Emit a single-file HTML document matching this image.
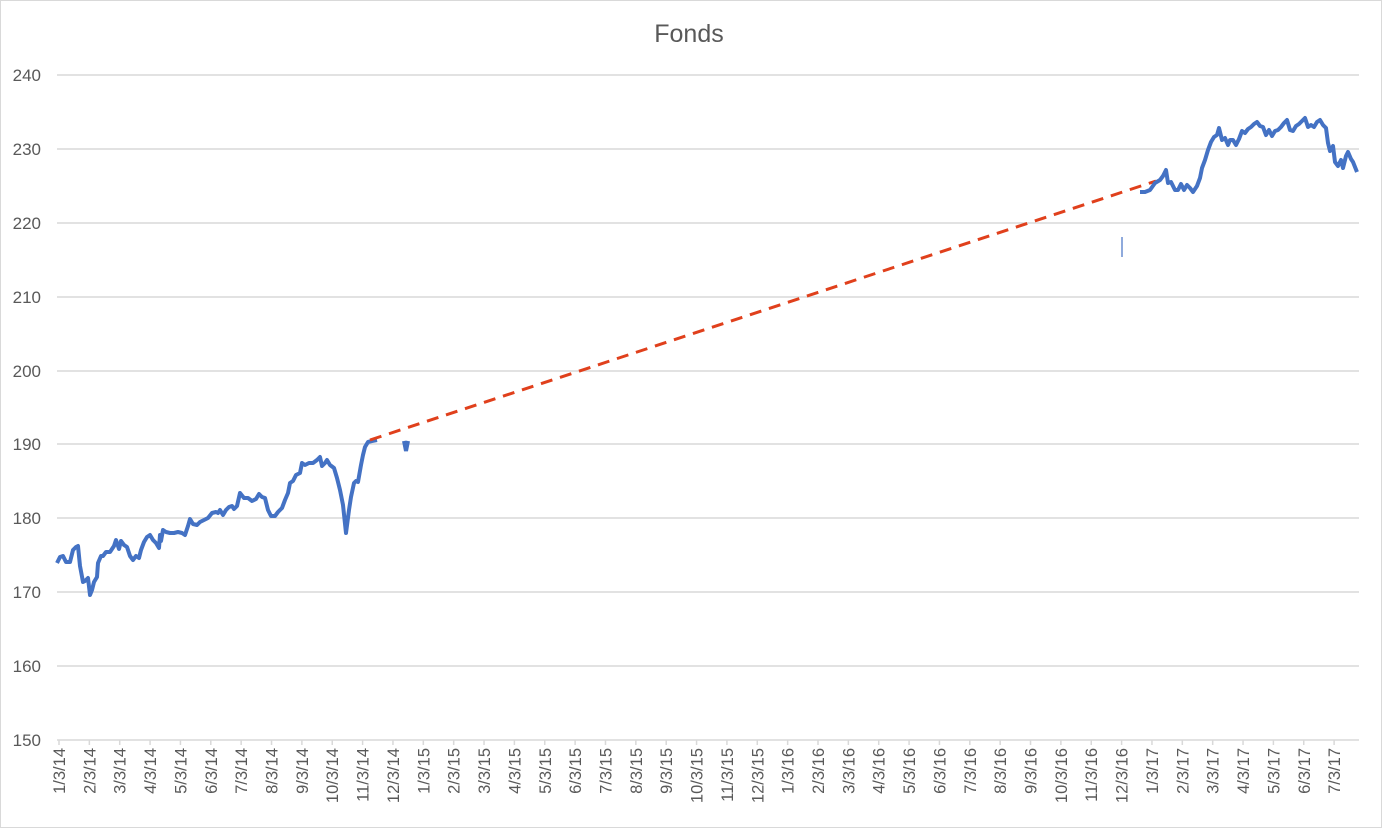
<!DOCTYPE html>
<html><head><meta charset="utf-8"><style>
html,body{margin:0;padding:0;background:#fff;}
svg{display:block;font-family:"Liberation Sans",sans-serif;}
</style></head><body>
<svg width="1383" height="829" viewBox="0 0 1383 829" xmlns="http://www.w3.org/2000/svg">
<rect x="0.5" y="0.5" width="1381" height="827" fill="#fff" stroke="#d9d9d9"/>
<text x="689" y="42" font-size="25" fill="#595959" text-anchor="middle">Fonds</text>
<g stroke="#d9d9d9" stroke-width="1.5">
<line x1="57" x2="1359" y1="75" y2="75"/><line x1="57" x2="1359" y1="149" y2="149"/>
<line x1="57" x2="1359" y1="223" y2="223"/><line x1="57" x2="1359" y1="297" y2="297"/>
<line x1="57" x2="1359" y1="371" y2="371"/><line x1="57" x2="1359" y1="444" y2="444"/>
<line x1="57" x2="1359" y1="518" y2="518"/><line x1="57" x2="1359" y1="592" y2="592"/>
<line x1="57" x2="1359" y1="666" y2="666"/><line x1="57" x2="1359" y1="740" y2="740"/>
</g>
<g font-size="17" fill="#595959" text-anchor="end">
<text x="41" y="81">240</text><text x="41" y="155">230</text><text x="41" y="229">220</text>
<text x="41" y="303">210</text><text x="41" y="377">200</text><text x="41" y="450">190</text>
<text x="41" y="524">180</text><text x="41" y="598">170</text><text x="41" y="672">160</text>
<text x="41" y="746">150</text>
</g>
<g id="xl" font-size="16.5" fill="#595959" text-anchor="end"></g>
<polyline fill="none" stroke="#4472c4" stroke-width="4" stroke-linejoin="round" points="57,563 60,557 63,556 66,562 70,562 73,550 76,547 78,546 80,566 83,582 85,581 88,578 90,595 92,590 94,582 97,577 98,563 101,556 103,556 106,552 110,552 114,546 116,540 119,549 121,541 124,545 127,547 130,556 133,560 136,556 139,558 141,550 144,542 147,537 150,535 153,540 156,543 159,548 160,535 161,541 163,530 166,532 170,533 174,533 178,532 182,533 185,535 188,526 190,519 193,524 197,525 200,522 204,520 208,518 212,513 216,512 218,513 220,510 223,515 226,510 229,507 232,506 234,509 237,506 240,493 244,498 248,498 252,501 256,499 259,494 262,497 265,498 268,510 271,516 275,516 278,512 282,508 285,500 288,493 290,483 293,481 296,475 300,473 302,463 305,465 309,463 313,463 317,460 320,457 322,466 325,463 327,460 330,465 334,468 337,478 340,490 343,505 346,533 349,510 351,497 354,483 356,481 358,482 361,465 363,455 365,447 368,442 372,441 377,440"/>
<polyline fill="none" stroke="#4472c4" stroke-width="4" points="404,441 406,451 408,441"/>
<line x1="1122" y1="237" x2="1122" y2="257" stroke="#4472c4" stroke-width="1.2"/>
<line x1="370" y1="440" x2="1156" y2="181" stroke="#e0401c" stroke-width="3" stroke-dasharray="12,8"/>
<polyline fill="none" stroke="#4472c4" stroke-width="4" stroke-linejoin="round" points="1140,192 1145,192 1150,190 1155,183 1160,180 1163,176 1166,170 1168,183 1171,182 1175,190 1178,190 1181,184 1184,190 1187,185 1190,188 1193,192 1197,186 1200,178 1202,168 1205,160 1208,150 1211,142 1214,137 1217,135 1219,128 1222,140 1225,138 1228,145 1230,140 1233,140 1236,145 1239,139 1242,131 1245,133 1248,129 1251,127 1254,124 1257,122 1260,126 1263,127 1266,135 1269,130 1272,136 1275,131 1278,130 1281,127 1284,123 1287,120 1290,130 1293,131 1296,126 1299,124 1302,121 1305,118 1308,127 1311,125 1314,127 1317,122 1320,120 1323,125 1326,128 1328,143 1330,151 1333,146 1335,162 1338,166 1341,160 1343,168 1346,156 1348,152 1351,159 1353,162 1357,172"/>
</svg>
<script>
var g=document.getElementById('xl'),s='';
var i=0;
for(var y=14;y<=17;y++){for(var m=1;m<=12;m++){if(y==17&&m>7)break;
var x=59+i*30.36;
s+='<line x1="'+x+'" x2="'+x+'" y1="740" y2="745" stroke="#d9d9d9" stroke-width="1.5"/>';
s+='<text transform="translate('+(x+6)+',748) rotate(-90)">'+m+'/3/'+y+'</text>';i++;}}
g.innerHTML=s;
</script>
</body></html>
